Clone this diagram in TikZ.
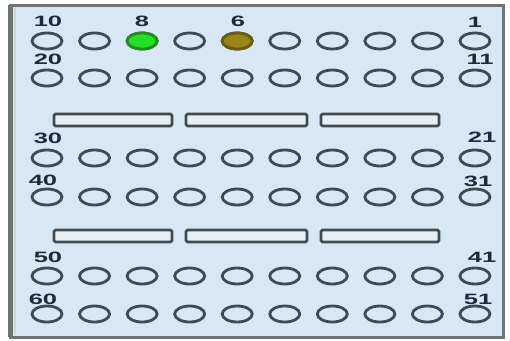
\documentclass[tikz,border=0pt]{standalone}
\usepackage{fontspec}
\setmainfont{Liberation Sans}
\usetikzlibrary{shapes.geometric}
\begin{document}
\begin{tikzpicture}[x=1pt,y=-1pt,
  hole/.style={ellipse,draw=holeline,line width=2.8pt,minimum width=30pt,minimum height=16pt,inner sep=0pt,fill=panelbg},
  greenhole/.style={hole,draw=greenline,fill=greenfill},
  olivehole/.style={hole,draw=oliveline,fill=olivefill},
  bar/.style={draw=holeline,line width=2.8pt,fill=barfill,rounded corners=1.5pt,minimum height=12pt,inner sep=0pt},
  lbl/.style={font=\bfseries\fontsize{15}{15}\selectfont,text=lblcol,inner sep=0pt,xscale=1.7}]
\definecolor{panelbg}{HTML}{D7E7F3}
\definecolor{holeline}{HTML}{3E4B52}
\definecolor{greenline}{HTML}{1E8E1E}
\definecolor{greenfill}{HTML}{22E022}
\definecolor{oliveline}{HTML}{6A5A12}
\definecolor{olivefill}{HTML}{9A8614}
\definecolor{barfill}{HTML}{E6EFF5}
\definecolor{lblcol}{HTML}{1C2A3A}
\definecolor{frame}{HTML}{6E7476}
\useasboundingbox (0,0) rectangle (510,340);
\fill[white] (0,0) rectangle (510,340);
\fill[panelbg] (10,5) rectangle (503,337);
\draw[frame,line width=3pt] (10,5) -- (503,5) -- (503,337) -- (10,337) -- cycle;
\draw[frame,line width=5pt] (10.5,5) -- (10.5,337);
\draw[white!70!frame,line width=2pt] (14.5,7) -- (14.5,335);
% holes
\foreach \r/\yy in {0/41,1/78,2/158,3/197,4/276,5/314}{
  \foreach \c in {0,...,9}{
    \pgfmathsetmacro{\xx}{47+\c*47.55}
    \node[hole] (h\r-\c) at (\xx,\yy) {};
  }
}
\node[greenhole] at (h0-2) {};
\node[olivehole] at (h0-4) {};
% bars
\foreach \yy/\n in {120/a,236/b}{
  \node[bar,minimum width=118pt] (bar\n1) at (113,\yy) {};
  \node[bar,minimum width=121pt] (bar\n2) at (246.5,\yy) {};
  \node[bar,minimum width=118pt] (bar\n3) at (380,\yy) {};
}
% labels
\node[lbl] (l10) at (48,21) {10};
\node[lbl] (l8) at (142,21) {8};
\node[lbl] (l6) at (238,21) {6};
\node[lbl] (l1) at (475,22) {1};
\node[lbl] (l20) at (48,59) {20};
\node[lbl] (l11) at (480,59) {11};
\node[lbl] (l30) at (48,138) {30};
\node[lbl] (l21) at (482,137) {21};
\node[lbl] (l40) at (43,180) {40};
\node[lbl] (l31) at (478,181) {31};
\node[lbl] (l50) at (48,257) {50};
\node[lbl] (l41) at (482,257) {41};
\node[lbl] (l60) at (43,299) {60};
\node[lbl] (l51) at (478,299) {51};
\end{tikzpicture}
\end{document}
